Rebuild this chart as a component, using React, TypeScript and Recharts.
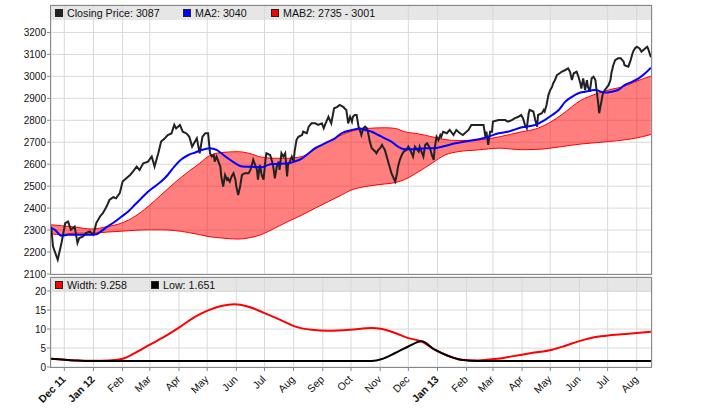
import React from 'react';
import { ComposedChart, Line, Area, XAxis, YAxis, CartesianGrid } from 'recharts';

// x values are calendar days counted from 2011-12-01
const ORIGIN = '2011-12-01';

const closeDays = [
  -14, -12, -7, -3, 1, 4, 7, 11, 14, 16, 20, 23, 27, 31, 34, 38, 41, 45, 48, 52, 55, 59, 62, 66, 70, 73, 77, 80, 84, 89,
  93, 96, 100, 103, 107, 110, 114, 117, 119, 123, 126, 130, 133, 136, 139, 141, 144, 147, 150, 153, 154, 155, 157, 159,
  160, 162, 164, 166, 167, 169, 171, 173, 174, 176, 178, 180, 182, 183, 185, 187, 189, 192, 196, 198, 199, 201, 203, 205,
  206, 208, 210, 212, 214, 215, 219, 221, 222, 224, 226, 228, 229, 231, 233, 235, 237, 238, 240, 242, 244, 245, 247, 249,
  253, 254, 258, 260, 263, 267, 270, 274, 276, 278, 281, 284, 287, 290, 293, 297, 298, 300, 302, 304, 306, 307, 309, 311,
  313, 315, 316, 318, 320, 322, 323, 325, 327, 331, 332, 334, 336, 338, 339, 341, 343, 345, 348, 352, 354, 355, 357, 359,
  361, 364, 366, 368, 371, 373, 377, 378, 382, 384, 386, 389, 391, 393, 394, 396, 398, 400, 401, 403, 407, 410, 414, 417,
  421, 424, 430, 433, 437, 442, 446, 448, 449, 451, 453, 455, 456, 462, 465, 469, 472, 476, 479, 483, 486, 488, 490, 492,
  494, 495, 499, 501, 503, 504, 508, 510, 511, 513, 515, 517, 519, 520, 522, 524, 527, 529, 533, 536, 538, 540, 542, 545,
  547, 549, 550, 552, 554, 556, 557, 559, 561, 563, 565, 566, 568, 569, 571, 573, 575, 579, 581, 582, 584, 586, 589, 592,
  595, 596, 600, 602, 604, 605, 607, 609, 612, 614, 616, 620, 621, 624,
];
const closeValues = [
  2316, 2225, 2165, 2241, 2332, 2339, 2301, 2316, 2241, 2264, 2271, 2286, 2294, 2279, 2332, 2362, 2377, 2407, 2437, 2450,
  2445, 2468, 2521, 2536, 2551, 2566, 2589, 2574, 2604, 2612, 2635, 2589, 2650, 2703, 2718, 2733, 2740, 2779, 2763, 2779,
  2748, 2740, 2725, 2680, 2703, 2718, 2650, 2725, 2741, 2741, 2695, 2650, 2635, 2642, 2612, 2635, 2612, 2589, 2544, 2498,
  2551, 2530, 2536, 2521, 2544, 2559, 2530, 2498, 2460, 2498, 2551, 2559, 2559, 2574, 2589, 2620, 2597, 2574, 2530, 2597,
  2551, 2530, 2620, 2650, 2642, 2612, 2597, 2536, 2589, 2612, 2574, 2650, 2635, 2650, 2544, 2597, 2612, 2635, 2612, 2657,
  2710, 2725, 2733, 2748, 2741, 2771, 2786, 2786, 2779, 2786, 2764, 2786, 2816, 2786, 2855, 2860, 2870, 2860, 2855, 2847,
  2786, 2816, 2794, 2816, 2824, 2824, 2771, 2748, 2733, 2763, 2771, 2763, 2748, 2703, 2673, 2657, 2650, 2665, 2673, 2688,
  2680, 2665, 2635, 2604, 2559, 2521, 2559, 2589, 2620, 2642, 2657, 2665, 2680, 2665, 2635, 2680, 2657, 2680, 2635, 2688,
  2695, 2673, 2642, 2620, 2673, 2725, 2710, 2733, 2725, 2748, 2741, 2756, 2733, 2756, 2741, 2733, 2756, 2779, 2779, 2779,
  2779, 2725, 2748, 2688, 2748, 2748, 2794, 2801, 2801, 2801, 2794, 2801, 2809, 2816, 2824, 2809, 2779, 2764, 2832, 2847,
  2840, 2801, 2771, 2824, 2832, 2847, 2840, 2870, 2915, 2938, 2953, 2968, 2983, 3006, 3014, 3021, 3029, 3036, 3021, 2983,
  3014, 3021, 2998, 2968, 2945, 2991, 2938, 2983, 2953, 2930, 2991, 2998, 2983, 2945, 2877, 2832, 2877, 2923, 2938, 2960,
  2983, 3014, 3051, 3074, 3082, 3082, 3067, 3051, 3044, 3067, 3097, 3112, 3127, 3135, 3127, 3112, 3120, 3135, 3127, 3087,
];

const maDays = [
  -14, -10, -3, 4, 18, 29, 34, 39, 46, 54, 61, 68, 75, 82, 89, 96, 103, 110, 117, 124, 132, 139, 146, 155, 162, 167, 174,
  182, 189, 199, 210, 217, 224, 238, 245, 253, 260, 267, 274, 281, 288, 295, 306, 315, 320, 327, 334, 341, 348, 355, 362,
  370, 384, 394, 405, 416, 426, 440, 451, 462, 472, 487, 501, 511, 519, 526, 533, 540, 547, 554, 565, 575, 582, 589, 596,
  604, 611, 618, 624,
];
const maValues = [
  2309, 2301, 2274, 2279, 2279, 2279, 2281, 2294, 2316, 2339, 2362, 2385, 2415, 2445, 2475, 2498, 2521, 2551, 2589, 2620,
  2642, 2653, 2665, 2673, 2665, 2650, 2627, 2604, 2589, 2588, 2586, 2597, 2601, 2604, 2612, 2627, 2650, 2673, 2688, 2703,
  2718, 2741, 2756, 2763, 2756, 2748, 2733, 2718, 2703, 2680, 2668, 2668, 2673, 2673, 2683, 2695, 2703, 2713, 2725, 2741,
  2748, 2768, 2779, 2801, 2824, 2847, 2885, 2907, 2923, 2930, 2938, 2926, 2930, 2938, 2960, 2975, 2991, 3014, 3040,
];

const bandDays = [
  -14, -3, 11, 29, 46, 61, 75, 89, 103, 117, 132, 144, 153, 167, 185, 196, 210, 224, 238, 253, 267, 281, 295, 304, 320,
  341, 352, 362, 377, 391, 405, 419, 440, 463, 487, 501, 515, 529, 550, 565, 579, 598, 607, 624,
];
const bandUpper = [
  2324, 2320, 2314, 2305, 2316, 2332, 2362, 2407, 2460, 2514, 2566, 2604, 2635, 2653, 2657, 2650, 2632, 2627, 2627, 2635,
  2670, 2703, 2733, 2748, 2762, 2766, 2763, 2748, 2738, 2725, 2712, 2708, 2710, 2725, 2748, 2760, 2786, 2825, 2892, 2919,
  2938, 2958, 2975, 3001,
];
const bandLower = [
  2283, 2279, 2286, 2286, 2291, 2295, 2299, 2301, 2301, 2298, 2289, 2279, 2271, 2264, 2259, 2264, 2280, 2309, 2339, 2369,
  2400, 2430, 2460, 2480, 2498, 2510, 2516, 2530, 2566, 2604, 2642, 2657, 2665, 2673, 2666, 2667, 2672, 2680, 2692, 2698,
  2703, 2712, 2718, 2735,
];

const widthDays = [
  -14, 11, 22, 39, 54, 62, 75, 89, 107, 124, 139, 153, 167, 181, 195, 213, 231, 245, 263, 281, 304, 327, 338, 352, 366,
  380, 394, 408, 422, 440, 458, 476, 497, 519, 533, 547, 565, 582, 600, 624,
];
const widthValues = [
  2.18, 1.74, 1.66, 1.66, 1.84, 2.18, 3.68, 5.6, 8.05, 10.7, 13.2, 14.9, 16.05, 16.5, 15.95, 14.2, 12.3, 10.7, 9.8, 9.55,
  9.8, 10.3, 10.0, 8.95, 7.6, 6.75, 4.55, 2.97, 1.92, 1.74, 2.1, 2.8, 3.68, 4.55, 5.6, 6.75, 7.9, 8.4, 8.75, 9.26,
];

const lowDays = [-14, 11, 22, 60, 200, 327, 338, 352, 366, 380, 394, 408, 422, 440, 624];
const lowValues = [2.18, 1.74, 1.6, 1.55, 1.55, 1.6, 2.1, 3.68, 5.4, 6.75, 4.55, 2.97, 1.92, 1.6, 1.55];

const tickDates = [
  '2011-12-01', '2012-01-01', '2012-02-01', '2012-03-01', '2012-04-01', '2012-05-01', '2012-06-01', '2012-07-01',
  '2012-08-01', '2012-09-01', '2012-10-01', '2012-11-01', '2012-12-01', '2013-01-01', '2013-02-01', '2013-03-01',
  '2013-04-01', '2013-05-01', '2013-06-01', '2013-07-01', '2013-08-01',
];
const tickLabels = [
  'Dec 11', 'Jan 12', 'Feb', 'Mar', 'Apr', 'May', 'Jun', 'Jul', 'Aug', 'Sep', 'Oct', 'Nov', 'Dec', 'Jan 13', 'Feb', 'Mar',
  'Apr', 'May', 'Jun', 'Jul', 'Aug',
];

const priceTicks = [2100, 2200, 2300, 2400, 2500, 2600, 2700, 2800, 2900, 3000, 3100, 3200];
const widthTicks = [0, 5, 10, 15, 20];

const topLegend = [
  { label: 'Closing Price: 3087', color: '#222222', left: 55 },
  { label: 'MA2: 3040', color: '#0000ff', left: 183 },
  { label: 'MAB2: 2735 - 3001', color: '#ff0000', left: 271 },
];
const bottomLegend = [
  { label: 'Width: 9.258', color: '#ff0000', left: 55 },
  { label: 'Low: 1.651', color: '#000000', left: 151 },
];

const DAY_MS = 86400000;
const originMs = Date.parse(ORIGIN);
const toDay = (iso: string) => Math.round((Date.parse(iso) - originMs) / DAY_MS);
const tickDays = tickDates.map(toDay);
const X_DOMAIN: [number, number] = [-14.15, 625.2];

type Row = { [k: string]: any };
function merge(series: { key: string; days: number[]; values: number[] }[]): Row[] {
  const map = new Map<number, Row>();
  series.forEach((s) => {
    s.days.forEach((d, i) => {
      const r = map.get(d) ?? { d };
      r[s.key] = s.values[i];
      map.set(d, r);
    });
  });
  const rows = Array.from(map.values()).sort((a, b) => a.d - b.d);
  rows.forEach((r) => {
    if (r.hi != null && r.lo != null) r.band = [r.lo, r.hi];
  });
  return rows;
}

const topRows = merge([
  { key: 'close', days: closeDays, values: closeValues },
  { key: 'ma', days: maDays, values: maValues },
  { key: 'hi', days: bandDays, values: bandUpper },
  { key: 'lo', days: bandDays, values: bandLower },
]);
const bottomRows = merge([
  { key: 'width', days: widthDays, values: widthValues },
  { key: 'low', days: lowDays, values: lowValues },
]);

const FONT = '"Liberation Sans", Arial, sans-serif';

const XTick = (props: any) => {
  const { x, y, payload } = props;
  const idx = tickDays.indexOf(payload.value);
  const label = idx >= 0 ? tickLabels[idx] : '';
  const bold = /\d/.test(label);
  return (
    <g transform={`translate(${x + 2},${y + 7}) rotate(-45)`}>
      <text x={0} y={0} textAnchor="end" fontSize={10.5} fontFamily={FONT} fontWeight={bold ? 'bold' : 'normal'} fill="#111">
        {label}
      </text>
    </g>
  );
};

const Legend = ({ items, top }: { items: { label: string; color: string; left: number }[]; top: number }) => (
  <>
    {items.map((it) => (
      <div key={it.label} style={{ position: 'absolute', left: it.left, top, height: 14, display: 'flex', alignItems: 'center' }}>
        <div style={{ width: 6, height: 6, background: it.color, border: '1px solid #222', marginRight: 4 }} />
        <span style={{ fontSize: 10.7, fontFamily: FONT, color: '#111', whiteSpace: 'nowrap' }}>{it.label}</span>
      </div>
    ))}
  </>
);

export default function App() {
  const axisTick = { fontSize: 10, fill: '#111', fontFamily: FONT };
  return (
    <div style={{ position: 'absolute', left: 0, top: 0, width: 701, height: 408, background: '#fff', overflow: 'hidden' }}>
      <div style={{ position: 'absolute', left: 51, top: 6, width: 600, height: 14, background: '#e6e6e6' }} />
      <div style={{ position: 'absolute', left: 51, top: 278, width: 600, height: 14, background: '#e6e6e6' }} />
      <div style={{ position: 'absolute', left: 0, top: 0 }}>
        <ComposedChart width={701} height={286} data={topRows} margin={{ top: 5, right: 49, bottom: 12, left: 0 }}>
          <CartesianGrid stroke="#d9d9d9" />
          <XAxis dataKey="d" type="number" domain={X_DOMAIN} ticks={tickDays} allowDataOverflow hide />
          <YAxis
            type="number"
            domain={[2100, 3325]}
            ticks={priceTicks}
            allowDataOverflow
            width={51}
            axisLine={false}
            tickLine={{ stroke: '#888' }}
            tickSize={4}
            tickMargin={1}
            tick={axisTick}
            interval={0}
          />
          <Area dataKey="band" type="monotone" stroke="none" fill="#ff0000" fillOpacity={0.5} connectNulls isAnimationActive={false} />
          <Line dataKey="hi" type="monotone" stroke="#ff0000" strokeWidth={1} dot={false} connectNulls isAnimationActive={false} />
          <Line dataKey="lo" type="monotone" stroke="#ff0000" strokeWidth={1} dot={false} connectNulls isAnimationActive={false} />
          <Line dataKey="close" type="linear" stroke="#222222" strokeWidth={2} dot={false} connectNulls isAnimationActive={false} />
          <Line dataKey="ma" type="monotone" stroke="#0000ff" strokeWidth={2} dot={false} connectNulls isAnimationActive={false} />
        </ComposedChart>
      </div>
      <div style={{ position: 'absolute', left: 0, top: 270 }}>
        <ComposedChart width={701} height={138} data={bottomRows} margin={{ top: 7, right: 49, bottom: 0, left: 0 }}>
          <CartesianGrid stroke="#d9d9d9" />
          <XAxis
            dataKey="d"
            type="number"
            domain={X_DOMAIN}
            ticks={tickDays}
            allowDataOverflow
            interval={0}
            height={41}
            axisLine={false}
            tickLine={{ stroke: '#888' }}
            tickSize={4}
            tick={<XTick />}
          />
          <YAxis
            type="number"
            domain={[0, 23.7]}
            ticks={widthTicks}
            allowDataOverflow
            width={51}
            axisLine={false}
            tickLine={{ stroke: '#888' }}
            tickSize={4}
            tickMargin={1}
            tick={axisTick}
            interval={0}
          />
          <Line dataKey="width" type="monotone" stroke="#ff0000" strokeWidth={2} dot={false} connectNulls isAnimationActive={false} />
          <Line dataKey="low" type="monotone" stroke="#000000" strokeWidth={2} dot={false} connectNulls isAnimationActive={false} />
        </ComposedChart>
      </div>
      <div style={{ position: 'absolute', left: 50, top: 5, width: 602, height: 270, border: '1px solid #888', boxSizing: 'border-box' }} />
      <div style={{ position: 'absolute', left: 50, top: 277, width: 602, height: 91, border: '1px solid #888', boxSizing: 'border-box' }} />
      <Legend items={topLegend} top={6} />
      <Legend items={bottomLegend} top={278} />
    </div>
  );
}
